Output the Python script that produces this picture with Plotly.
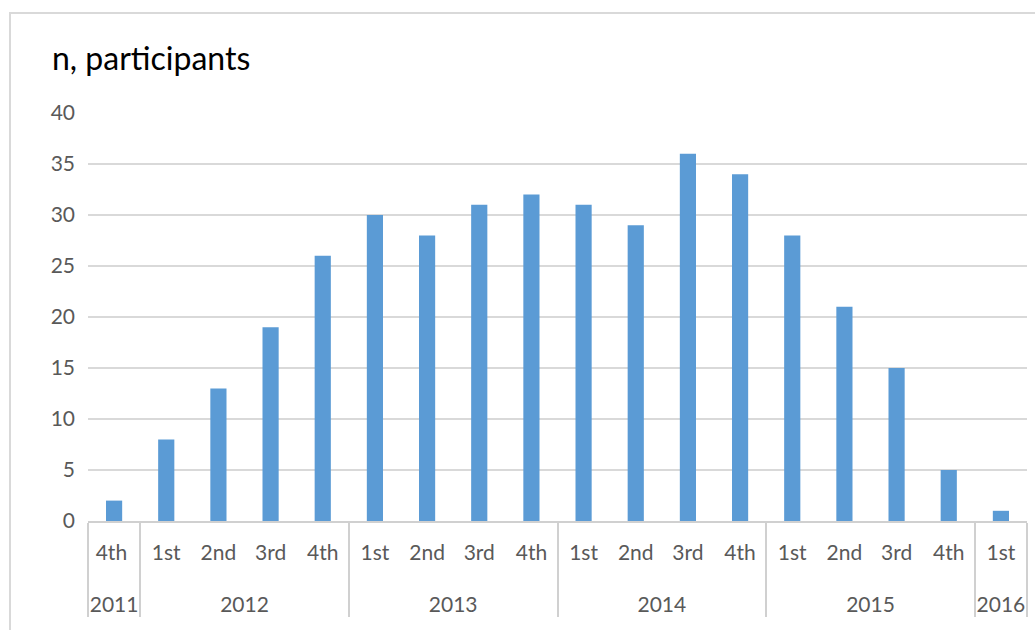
import plotly.graph_objects as go

years = ["2011", "2012", "2012", "2012", "2012",
         "2013", "2013", "2013", "2013",
         "2014", "2014", "2014", "2014",
         "2015", "2015", "2015", "2015", "2016"]
# the 2011 "4th" carries a trailing space so it is its own category and
# plotly keeps 1st..4th in order inside the later years
quarters = ["4th ", "1st", "2nd", "3rd", "4th",
            "1st", "2nd", "3rd", "4th",
            "1st", "2nd", "3rd", "4th",
            "1st", "2nd", "3rd", "4th", "1st"]
participants = [2, 8, 13, 19, 26, 30, 28, 31, 32, 31, 29, 36, 34, 28, 21, 15, 5, 1]

LBL = "<span style='font-size:21px'>{}</span>"
# leading line break pushes the year row further below the quarter row
year_labels = ["<br>" + LBL.format(y) for y in years]
quarter_labels = [LBL.format(q) for q in quarters]

fig = go.Figure(go.Bar(
    x=[year_labels, quarter_labels],
    y=participants,
    marker=dict(color="#5b9bd5", line=dict(width=0)),
    width=0.31,
))

font_family = "Lato, 'Open Sans', sans-serif"

fig.update_layout(
    width=1035, height=630,
    margin=dict(l=88, r=8, t=113, b=109),
    paper_bgcolor="white", plot_bgcolor="white",
    showlegend=False,
    font=dict(family=font_family, color="#595959", size=21),
    xaxis=dict(
        type="multicategory",
        automargin=False,
        showline=True, linecolor="#d0d0d0", linewidth=1.5,
        showgrid=False,
        showdividers=True, dividercolor="#d0d0d0", dividerwidth=1.5,
        tickfont=dict(size=25, color="#595959", family=font_family),
        ticks="",
        ticklabelstandoff=7,
    ),
    yaxis=dict(
        range=[0, 40], dtick=5,
        automargin=False,
        showgrid=True, gridcolor="#d9d9d9", gridwidth=1.5,
        zeroline=False, showline=False,
        tickfont=dict(size=21, color="#595959", family=font_family),
        ticks="", ticklen=0,
        ticklabelstandoff=12,
    ),
    shapes=[dict(
        type="rect", xref="paper", yref="paper",
        x0=(10 - 88) / 939, x1=1.2, y0=-0.5, y1=1 + (113 - 13) / 408,
        line=dict(color="#d9d9d9", width=2), fillcolor="rgba(0,0,0,0)",
        layer="below",
    )],
    annotations=[dict(
        text="n, participants", xref="paper", yref="paper",
        x=(50 - 88) / 939, y=1 + (113 - 57) / 408,
        xanchor="left", yanchor="middle", showarrow=False,
        font=dict(size=32, color="black", family=font_family),
    )],
)

fig.write_html("out.html", config={"displayModeBar": False},
               post_script="document.body.style.margin='0';")
